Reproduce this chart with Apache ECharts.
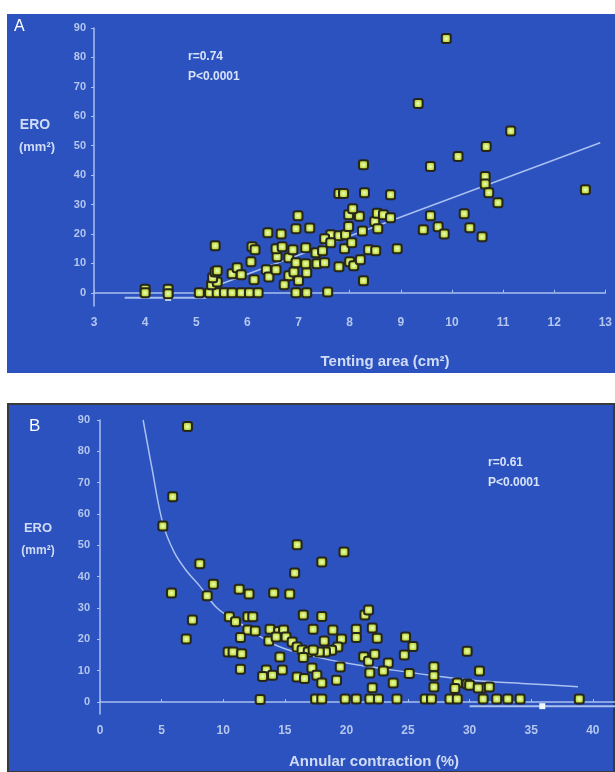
<!DOCTYPE html>
<html>
<head>
<meta charset="utf-8">
<script src="https://cdn.jsdelivr.net/npm/echarts@6/dist/echarts.min.js"></script>
<style>
html,body{margin:0;padding:0;background:#ffffff;}
#chart{width:615px;height:772px;}
</style>
</head>
<body>
<div id="chart"></div>
<script>
// ---------- Panel A: ERO vs Tenting area ----------
const tentingArea = [4.0,4.0,4.45,4.45,5.06,5.26,5.41,5.55,5.7,5.88,6.04,6.21,6.95,7.16,7.57,
  5.3,5.41,5.32,5.37,5.41,5.7,5.8,5.88,6.13,6.37,6.42,6.56,6.81,6.91,6.72,7.0,7.16,8.27,
  6.07,6.58,6.81,6.95,7.14,7.36,7.51,7.79,8.0,8.08,8.21,
  5.37,6.09,6.15,6.56,6.68,6.89,7.14,7.34,7.47,7.9,8.37,8.51,8.93,
  6.4,6.66,6.95,7.22,7.63,7.79,7.92,7.51,7.63,8.04,7.98,8.49,8.55,8.25,
  6.99,7.98,8.19,8.06,8.54,8.66,8.8,
  7.79,7.88,8.29,8.8,8.27,
  9.58,10.24,9.44,9.73,9.85,10.35,10.59,
  9.58,10.12,10.67,11.15,9.34,9.89,10.65,10.65,10.72,10.9,12.61];
const eroA = [1.2,0,1.2,-0.3,0,0,0,0,0,0,0,0,0,0,0.3,
  2.7,3.7,5.1,7.1,7.5,6.5,8.5,6.1,4.4,7.8,5.4,7.8,5.8,7.1,2.7,4.1,6.8,4.1,
  10.5,12.2,11.9,10.2,9.9,9.9,10.2,8.8,10.5,9.2,11.2,
  16,15.6,14.6,15,15.6,14.6,15.3,13.6,14.3,15,14.6,14.3,15,
  20.4,20,21.8,22,19.7,19.4,19.7,18.4,17,17,22.5,24.2,21.8,21,
  26.2,26.5,26,28.6,27,26.5,25.5,
  33.7,33.7,34,33.3,43.5,
  26.2,26.9,21.4,22.4,20,22.1,19,
  42.9,46.3,49.7,55,64.3,86.4,39.5,37,34,30.6,35];
// fit line
const fitA_x = [5.3, 12.9];
const fitA_y = [1.8, 51];
const baseA_x = [3.6, 4.45, 5.2];
const baseA_y = [-1.7, -1.7, -1.7];

// ---------- Panel B: ERO vs Annular contraction ----------
const annular = [7.1,5.9,5.1,8.1,16.0,15.8,19.8,18.0,9.2,5.8,8.7,11.3,12.1,14.1,15.4,
  7.5,7.0,10.5,11.0,12.0,12.4,12.0,12.6,11.4,10.4,10.8,11.5,11.4,13.0,
  13.8,14.5,14.9,13.7,14.3,15.1,15.6,14.6,13.5,13.2,14.0,14.8,16.0,16.4,16.9,16.5,16.0,16.6,16.5,
  17.3,18.0,18.9,18.2,19.6,19.3,18.8,18.3,17.8,17.3,17.2,17.6,18.0,19.5,19.2,
  20.8,20.8,21.5,21.8,22.1,22.5,21.4,21.8,22.3,21.9,22.1,23.4,23.0,23.8,24.8,25.4,24.7,25.1,27.1,27.1,27.1,
  29.8,30.8,29.0,29.8,30.0,28.8,31.0,31.6,30.7,
  17.5,18.0,19.9,20.8,21.9,22.6,24.1,26.4,26.9,28.4,29.0,31.1,32.2,33.1,34.1,38.9];
const eroB = [87.9,65.5,56.2,44.1,50.2,41.2,47.9,44.7,37.6,34.8,33.9,36,34.5,34.8,34.5,
  26.2,20.1,27.2,25.6,27.2,27.2,23,22.7,20.6,16,16,15.4,10.5,0.8,
  23.2,22.5,23,19.5,20.8,20.8,19.2,14.4,10.2,8.2,8.6,10.2,17.6,16.6,16,27.8,8,7.5,14.2,
  23.2,27.3,23,19.5,20.1,17.6,16.5,16,16,16.6,10.9,8.6,6.1,11.2,7,
  23.2,20.6,27.8,29.4,23.6,20.4,14.5,13,15.3,9.3,4.6,12.5,9.9,6.1,20.8,17.7,15,9.1,11.3,8.4,4.8,
  16.2,9.9,6.1,5.8,5.4,4.3,4.5,4.8,4.5,
  1,1,1,1,1,1,1,1,1,1,1,1,1,1,1,1];
const curveB_x = [3.5,4.2,5.1,6,7,8.1,9.5,10.8,12,13.6,15,17.4,20,23.8,27,30.2,35,38.8];
const curveB_y = [90,75,57,48,42,37,30,26.5,23.5,19.5,17,14.5,12.5,10.2,8.5,7,5.8,4.9];
const baseB_x = [30, 35.9, 41.8];
const baseB_y = [-1.3, -1.3, -1.3];

const eroTicks = [0,10,20,30,40,50,60,70,80,90];
const annularTicks = [0,5,10,15,20,25,30,35,40];

function pairs(xs, ys){ return xs.map((x,i)=>[x, ys[i]]); }

const txtColor = '#b4c6ee';
const lineColor = '#a9c0f0';
const font = "'Liberation Sans Narrow','Liberation Sans',sans-serif";
const dot = {
  color: {type:'radial', x:0.5, y:0.5, r:0.5,
    colorStops:[{offset:0,color:'#eaffc8'},{offset:0.45,color:'#cfe860'},{offset:1,color:'#a8b820'}]},
  borderColor:'#26261a', borderWidth:2, opacity:1
};

function yAx(idx){
  return {
    type:'value', gridIndex:idx, min: idx===0 ? -4.5 : -3.8, max:90,
    axisLine:{show:true, lineStyle:{color:lineColor, width:1.5}},
    axisTick:{show:true, length:3, customValues:eroTicks, lineStyle:{color:lineColor}},
    axisLabel:{customValues:eroTicks, color:txtColor, fontSize:11, fontWeight:'bold', fontFamily:font, margin: idx===0 ? 8 : 10},
    splitLine:{show:false}
  };
}

const option = {
  animation:false,
  backgroundColor:'#ffffff',
  graphic:[
    {type:'rect', z:-10, shape:{x:7,y:14,width:608,height:359}, style:{fill:'#2b52be'}},
    {type:'rect', z:-10, shape:{x:8,y:404,width:606,height:368}, style:{fill:'#2b52be', stroke:'#3a3a3a', lineWidth:2}},
    {type:'text', left:14, top:19, style:{text:'A', fill:'#ffffff', font:"16px "+font}},
    {type:'text', left:29, top:418, style:{text:'B', fill:'#ffffff', font:"17px "+font}},
    {type:'text', x:35, y:125, style:{text:'ERO', fill:'#d0dcf6', font:"bold 14px 'Liberation Sans',sans-serif", align:'center', verticalAlign:'middle'}},
    {type:'text', x:37, y:147, style:{text:'(mm²)', fill:'#d0dcf6', font:"bold 13px 'Liberation Sans',sans-serif", align:'center', verticalAlign:'middle'}},
    {type:'text', x:38, y:528, style:{text:'ERO', fill:'#d0dcf6', font:"bold 13px 'Liberation Sans',sans-serif", align:'center', verticalAlign:'middle'}},
    {type:'text', x:38, y:551, style:{text:'(mm²)', fill:'#d0dcf6', font:"bold 12px 'Liberation Sans',sans-serif", align:'center', verticalAlign:'middle'}},
    {type:'text', x:188, y:57, style:{text:'r=0.74', fill:'#d8e2fa', font:"bold 12px 'Liberation Sans',sans-serif", verticalAlign:'middle'}},
    {type:'text', x:188, y:77, style:{text:'P<0.0001', fill:'#d8e2fa', font:"bold 12px 'Liberation Sans',sans-serif", verticalAlign:'middle'}},
    {type:'text', x:488, y:463, style:{text:'r=0.61', fill:'#d8e2fa', font:"bold 12px 'Liberation Sans',sans-serif", verticalAlign:'middle'}},
    {type:'text', x:488, y:483, style:{text:'P<0.0001', fill:'#d8e2fa', font:"bold 12px 'Liberation Sans',sans-serif", verticalAlign:'middle'}},
    {type:'text', x:385, y:362, style:{text:'Tenting area (cm²)', fill:'#d0dcf6', font:"bold 15px 'Liberation Sans',sans-serif", align:'center', verticalAlign:'middle'}},
    {type:'text', x:374, y:762, style:{text:'Annular contraction (%)', fill:'#d0dcf6', font:"bold 15px 'Liberation Sans',sans-serif", align:'center', verticalAlign:'middle'}}
  ],
  grid:[
    {left:94, top:28, width:514, height:278},
    {left:100, top:420, width:515, height:294}
  ],
  xAxis:[
    {type:'value', gridIndex:0, min:3, max:13, interval:1,
      axisLine:{show:true, lineStyle:{color:lineColor, width:1.5}},
      axisTick:{show:true, inside:true, length:3, lineStyle:{color:lineColor}},
      axisLabel:{color:txtColor, fontSize:12, fontWeight:'bold', fontFamily:font, margin:11},
      splitLine:{show:false}},
    {type:'value', gridIndex:1, min:0, max:41.8,
      axisLine:{show:true, lineStyle:{color:lineColor, width:1.5}},
      axisTick:{show:true, inside:true, length:3, customValues:annularTicks, lineStyle:{color:lineColor}},
      axisLabel:{customValues:annularTicks, color:txtColor, fontSize:12, fontWeight:'bold', fontFamily:font, margin:11},
      splitLine:{show:false}}
  ],
  yAxis:[yAx(0), yAx(1)],
  series:[
    {type:'line', xAxisIndex:0, yAxisIndex:0, data:pairs(fitA_x, fitA_y), showSymbol:false, lineStyle:{color:lineColor, width:1.5}, z:1},
    {type:'line', xAxisIndex:0, yAxisIndex:0, data:pairs(baseA_x, baseA_y), symbol:'rect', symbolSize:[6,6], showSymbol:true,
      itemStyle:{color:'#f0f6ff'}, lineStyle:{color:lineColor, width:2}, z:1},
    {type:'scatter', xAxisIndex:0, yAxisIndex:0, data:pairs(tentingArea, eroA), symbol:'roundRect', symbolSize:9, itemStyle:dot, z:3},
    {type:'line', xAxisIndex:1, yAxisIndex:1, data:pairs(curveB_x, curveB_y), smooth:0.4, showSymbol:false, lineStyle:{color:lineColor, width:1.5}, z:1},
    {type:'line', xAxisIndex:1, yAxisIndex:1, data:pairs(baseB_x, baseB_y), symbol:'rect', symbolSize:[6,6], showSymbol:true,
      itemStyle:{color:'#f0f6ff'}, lineStyle:{color:lineColor, width:2}, z:1},
    {type:'scatter', xAxisIndex:1, yAxisIndex:1, data:pairs(annular, eroB), symbol:'roundRect', symbolSize:9, itemStyle:dot, z:3}
  ]
};
// only the middle marker of each baseline segment is drawn
option.series[1].data = option.series[1].data.map((p,i)=> i===1 ? p : {value:p, symbol:'none'});
option.series[4].data = option.series[4].data.map((p,i)=> i===1 ? p : {value:p, symbol:'none'});

const chart = echarts.init(document.getElementById('chart'), null, {renderer:'canvas'});
chart.setOption(option);
</script>
</body>
</html>
